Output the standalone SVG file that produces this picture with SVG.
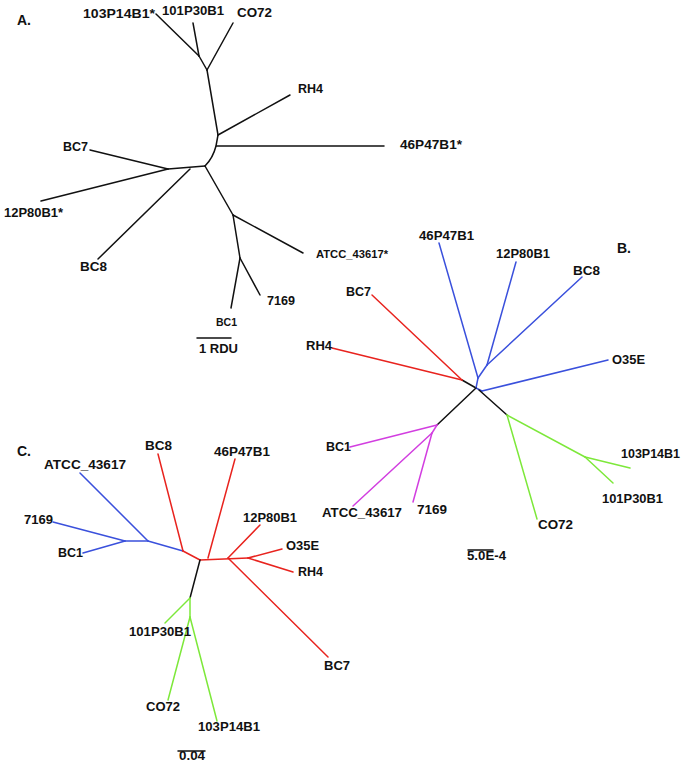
<svg xmlns="http://www.w3.org/2000/svg" width="685" height="765" viewBox="0 0 685 765">
<style>
text{font-family:"Liberation Sans",Arial,sans-serif;font-weight:bold;font-size:12.5px;fill:#111}
.sm{font-size:11px}
.pl{font-size:14px}
line,path{stroke-width:1.5;fill:none;stroke-linecap:round}
.k{stroke:#111}
.b{stroke:#3a50dc}
.r{stroke:#e8231e}
.m{stroke:#d23ee0}
.g{stroke:#7de83a}
</style>
<rect width="685" height="765" fill="#fff"/>

<!-- Panel A -->
<g id="connectors-A" class="k">
<line x1="156" y1="14" x2="199" y2="56"/>
<line x1="193" y1="23" x2="199" y2="56"/>
<line x1="199" y1="56" x2="207" y2="70"/>
<line x1="233" y1="23" x2="207" y2="70"/>
<line x1="207" y1="70" x2="218" y2="135"/>
<line x1="290" y1="95" x2="218" y2="135"/>
<path d="M218,135 L216,146 Q213,158 205,166"/>
<line x1="216" y1="146" x2="384" y2="146"/>
<line x1="205" y1="166" x2="168" y2="169"/>
<line x1="90" y1="150" x2="168" y2="169"/>
<line x1="41" y1="201" x2="168" y2="169"/>
<line x1="98" y1="259" x2="190" y2="169"/>
<line x1="205" y1="166" x2="233" y2="215"/>
<line x1="303" y1="253" x2="233" y2="215"/>
<line x1="233" y1="215" x2="240" y2="258"/>
<line x1="260" y1="295" x2="240" y2="258"/>
<line x1="231" y1="308" x2="240" y2="258"/>
<line x1="197" y1="338" x2="231" y2="338"/>
</g>
<g id="label-A"><text class="pl" x="17" y="25">A.</text></g>
<g id="A-103P14B1"><text x="83" y="18" textLength="72" lengthAdjust="spacingAndGlyphs">103P14B1*</text></g>
<g id="A-101P30B1"><text x="162" y="15" textLength="62" lengthAdjust="spacingAndGlyphs">101P30B1</text></g>
<g id="A-CO72"><text x="237" y="17" textLength="35" lengthAdjust="spacingAndGlyphs">CO72</text></g>
<g id="A-RH4"><text x="298" y="93" textLength="25" lengthAdjust="spacingAndGlyphs">RH4</text></g>
<g id="A-46P47B1"><text x="400" y="149" textLength="62" lengthAdjust="spacingAndGlyphs">46P47B1*</text></g>
<g id="A-BC7"><text x="63" y="151" textLength="25" lengthAdjust="spacingAndGlyphs">BC7</text></g>
<g id="A-12P80B1"><text x="4" y="217" textLength="59" lengthAdjust="spacingAndGlyphs">12P80B1*</text></g>
<g id="A-BC8"><text x="80" y="271" textLength="27" lengthAdjust="spacingAndGlyphs">BC8</text></g>
<g id="A-ATCC"><text class="sm" x="316" y="258" textLength="72" lengthAdjust="spacingAndGlyphs">ATCC_43617*</text></g>
<g id="A-7169"><text x="267" y="305" textLength="28" lengthAdjust="spacingAndGlyphs">7169</text></g>
<g id="A-BC1"><text class="sm" x="216" y="326" textLength="21" lengthAdjust="spacingAndGlyphs">BC1</text></g>
<g id="A-scale"><text x="199" y="353" textLength="39" lengthAdjust="spacingAndGlyphs">1 RDU</text></g>

<!-- Panel B -->
<g id="connectors-B">
<line class="k" x1="462" y1="380" x2="476" y2="388"/>
<line class="r" x1="372" y1="295" x2="462" y2="380"/>
<line class="r" x1="332" y1="348" x2="462" y2="380"/>
<line class="b" x1="476" y1="388" x2="478" y2="378"/>
<line class="b" x1="439" y1="243" x2="478" y2="378"/>
<line class="b" x1="478" y1="378" x2="487" y2="365"/>
<line class="b" x1="516" y1="262" x2="487" y2="365"/>
<line class="b" x1="582" y1="277" x2="487" y2="365"/>
<line class="b" x1="476" y1="388" x2="482" y2="391"/>
<line class="b" x1="608" y1="360" x2="482" y2="391"/>
<line class="k" x1="476" y1="388" x2="437" y2="425"/>
<line class="k" x1="479" y1="390" x2="507" y2="415"/>
<line class="m" x1="350" y1="447" x2="437" y2="425"/>
<line class="m" x1="437" y1="425" x2="432" y2="433"/>
<line class="m" x1="353" y1="506" x2="432" y2="433"/>
<line class="m" x1="413" y1="502" x2="432" y2="433"/>
<line class="g" x1="537" y1="519" x2="507" y2="415"/>
<line class="g" x1="507" y1="415" x2="585" y2="457"/>
<line class="g" x1="630" y1="468" x2="585" y2="457"/>
<line class="g" x1="613" y1="483" x2="585" y2="457"/>
<line class="k" x1="468" y1="550" x2="493" y2="550"/>
</g>
<g id="label-B"><text class="pl" x="617" y="253">B.</text></g>
<g id="B-46P47B1"><text x="419" y="240" textLength="55" lengthAdjust="spacingAndGlyphs">46P47B1</text></g>
<g id="B-12P80B1"><text x="496" y="258" textLength="54" lengthAdjust="spacingAndGlyphs">12P80B1</text></g>
<g id="B-BC8"><text x="573" y="275" textLength="27" lengthAdjust="spacingAndGlyphs">BC8</text></g>
<g id="B-BC7"><text x="346" y="296" textLength="25" lengthAdjust="spacingAndGlyphs">BC7</text></g>
<g id="B-RH4"><text x="306" y="350" textLength="26" lengthAdjust="spacingAndGlyphs">RH4</text></g>
<g id="B-O35E"><text x="612" y="364" textLength="33" lengthAdjust="spacingAndGlyphs">O35E</text></g>
<g id="B-BC1"><text x="326" y="451" textLength="25" lengthAdjust="spacingAndGlyphs">BC1</text></g>
<g id="B-ATCC"><text x="322" y="517" textLength="80" lengthAdjust="spacingAndGlyphs">ATCC_43617</text></g>
<g id="B-7169"><text x="417" y="514" textLength="30" lengthAdjust="spacingAndGlyphs">7169</text></g>
<g id="B-CO72"><text x="538" y="529" textLength="35" lengthAdjust="spacingAndGlyphs">CO72</text></g>
<g id="B-103P14B1"><text x="621" y="458" textLength="59" lengthAdjust="spacingAndGlyphs">103P14B1</text></g>
<g id="B-101P30B1"><text x="602" y="503" textLength="61" lengthAdjust="spacingAndGlyphs">101P30B1</text></g>
<g id="B-scale"><text x="467" y="560" textLength="39" lengthAdjust="spacingAndGlyphs">5.0E-4</text></g>

<!-- Panel C -->
<g id="connectors-C">
<line class="b" x1="80" y1="473" x2="148" y2="541"/>
<line class="b" x1="53" y1="522" x2="125" y2="541"/>
<line class="b" x1="83" y1="553" x2="125" y2="541"/>
<line class="b" x1="125" y1="541" x2="148" y2="541"/>
<line class="b" x1="148" y1="541" x2="183" y2="551"/>
<line class="r" x1="158" y1="454" x2="183" y2="551"/>
<line class="r" x1="183" y1="551" x2="200" y2="560"/>
<line class="r" x1="200" y1="560" x2="248" y2="558"/>
<line class="r" x1="235" y1="459" x2="208" y2="558"/>
<line class="r" x1="260" y1="525" x2="228" y2="558"/>
<line class="r" x1="282" y1="549" x2="248" y2="558"/>
<line class="r" x1="293" y1="572" x2="248" y2="558"/>
<line class="r" x1="328" y1="657" x2="228" y2="558"/>
<line class="k" x1="200" y1="560" x2="190" y2="598"/>
<line class="g" x1="165" y1="623" x2="190" y2="598"/>
<line class="g" x1="190" y1="598" x2="190" y2="617"/>
<line class="g" x1="168" y1="700" x2="190" y2="617"/>
<line class="g" x1="217" y1="721" x2="190" y2="617"/>
<line class="k" x1="178" y1="751" x2="205" y2="751"/>
</g>
<g id="label-C"><text class="pl" x="17" y="456">C.</text></g>
<g id="C-BC8"><text x="145" y="450" textLength="27" lengthAdjust="spacingAndGlyphs">BC8</text></g>
<g id="C-46P47B1"><text x="214" y="456" textLength="56" lengthAdjust="spacingAndGlyphs">46P47B1</text></g>
<g id="C-ATCC"><text x="44" y="469" textLength="82" lengthAdjust="spacingAndGlyphs">ATCC_43617</text></g>
<g id="C-7169"><text x="24" y="524" textLength="29" lengthAdjust="spacingAndGlyphs">7169</text></g>
<g id="C-BC1"><text x="58" y="557" textLength="25" lengthAdjust="spacingAndGlyphs">BC1</text></g>
<g id="C-12P80B1"><text x="243" y="522" textLength="54" lengthAdjust="spacingAndGlyphs">12P80B1</text></g>
<g id="C-O35E"><text x="286" y="550" textLength="33" lengthAdjust="spacingAndGlyphs">O35E</text></g>
<g id="C-RH4"><text x="298" y="576" textLength="25" lengthAdjust="spacingAndGlyphs">RH4</text></g>
<g id="C-BC7"><text x="324" y="670" textLength="26" lengthAdjust="spacingAndGlyphs">BC7</text></g>
<g id="C-101P30B1"><text x="129" y="636" textLength="62" lengthAdjust="spacingAndGlyphs">101P30B1</text></g>
<g id="C-CO72"><text x="146" y="711" textLength="34" lengthAdjust="spacingAndGlyphs">CO72</text></g>
<g id="C-103P14B1"><text x="198" y="731" textLength="62" lengthAdjust="spacingAndGlyphs">103P14B1</text></g>
<g id="C-scale"><text x="179" y="760" textLength="26" lengthAdjust="spacingAndGlyphs">0.04</text></g>
</svg>
